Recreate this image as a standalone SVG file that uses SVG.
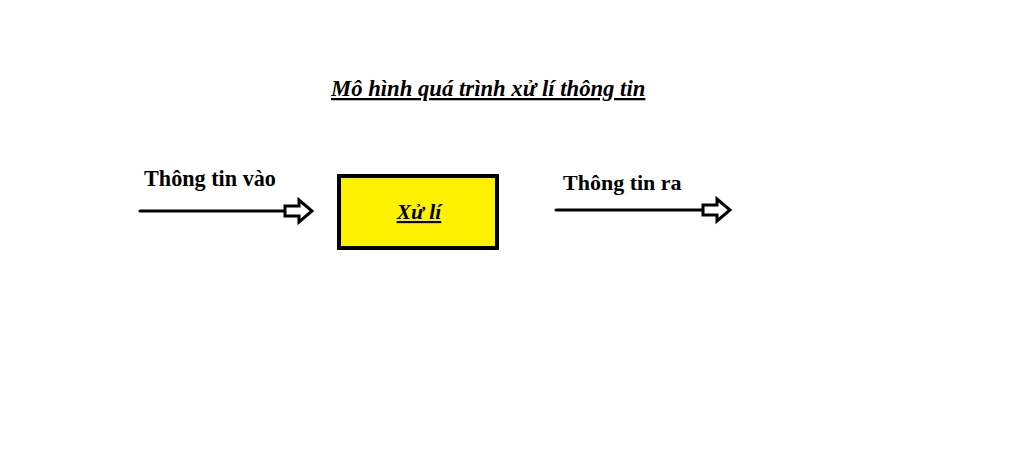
<svg xmlns="http://www.w3.org/2000/svg" width="1024" height="469" viewBox="0 0 1024 469">
<style>
.t{font-family:"Liberation Serif","Times New Roman",serif;font-weight:bold;fill:#000}
.u{font-style:italic;text-decoration:underline}
.line{stroke:#000;stroke-width:3;fill:none;stroke-linecap:round}
.head{stroke:#000;stroke-width:3;fill:#fff;stroke-linejoin:miter}
</style>
<rect width="1024" height="469" fill="#fff"/>
<text id="title" class="t u" x="331" y="96" font-size="22.7">Mô hình quá trình xử lí thông tin</text>
<g id="process">
<rect x="339" y="176" width="158" height="72" fill="#fff200" stroke="#000" stroke-width="4"/>
<text class="t u" x="419" y="219" font-size="21.5" text-anchor="middle">Xử lí</text>
</g>
<g id="input-label"><text class="t" x="144" y="186" font-size="22.2">Thông tin vào</text></g>
<g id="output-label"><text class="t" x="563" y="190" font-size="22">Thông tin ra</text></g>
<g id="connectors">
<line class="line" x1="140" y1="211" x2="285" y2="211"/>
<polygon class="head" points="285,206 299,206 299,200 312,211 299,222 299,216 285,216"/>
<line class="line" x1="556" y1="210" x2="703" y2="210"/>
<polygon class="head" points="703,205 717,205 717,199 730,210 717,221 717,215 703,215"/>
</g>
</svg>
